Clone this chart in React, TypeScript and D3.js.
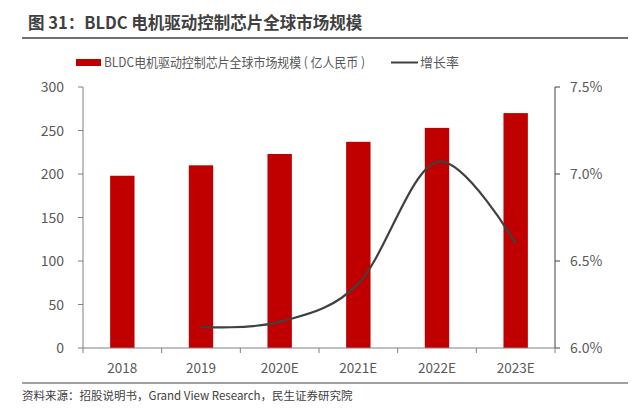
import React from "react";
import * as d3 from "d3";

const categories = ["2018", "2019", "2020E", "2021E", "2022E", "2023E"];
const marketSize = [198, 210, 223, 237, 253, 270];
const growthCats = ["2019", "2020E", "2021E", "2022E", "2023E"];
const growthRate = [6.12, 6.15, 6.37, 7.07, 6.6];
const leftTicks = [0, 50, 100, 150, 200, 250, 300];
const rightTicks = [6.0, 6.5, 7.0, 7.5];

const W = 640, H = 414;
const L = 83, R = 555, T = 87, B = 348;
const font = "'Noto Sans CJK SC', 'Noto Sans', sans-serif";

export default function App() {
  const x = d3.scaleBand().domain(categories).range([L, R]).paddingInner(0.69).paddingOuter(0.345);
  const xStep = (R - L) / categories.length;
  const yL = d3.scaleLinear().domain([0, 300]).range([B, T]);
  const yR = d3.scaleLinear().domain([6.0, 7.5]).range([B, T]);
  const cx = (c: string) => (x(c) as number) + x.bandwidth() / 2;
  const line = d3
    .line<number>()
    .x((_, i) => cx(growthCats[i]))
    .y((d) => yR(d))
    .curve(d3.curveCardinal.tension(0));
  const axisColor = "#808080";
  const textColor = "#595959";
  return (
    <svg width={W} height={H} style={{ position: "absolute", left: 0, top: 0, background: "#fff" }} fontFamily={font}>
      <text x={28} y={29} fontSize={16.5} fontWeight={700} fill="#404040">图 31：BLDC 电机驱动控制芯片全球市场规模</text>
      <line x1={22} x2={628} y1={38} y2={38} stroke="#404040" strokeWidth={1.5} />
      {/* legend */}
      <rect x={76} y={59} width={25} height={7} fill="#C00000" />
      <text x={104} y={67} fontSize={13} fill={textColor} textLength={261} lengthAdjust="spacingAndGlyphs">BLDC电机驱动控制芯片全球市场规模 ( 亿人民币 )</text>
      <line x1={391} x2={418} y1={62.5} y2={62.5} stroke="#404040" strokeWidth={2} />
      <text x={420} y={67} fontSize={13} fill={textColor}>增长率</text>
      {/* bars */}
      {categories.map((c, i) => (
        <rect key={c} x={x(c)} y={yL(marketSize[i])} width={x.bandwidth()} height={B - yL(marketSize[i])} fill="#C00000" />
      ))}
      {/* left axis */}
      <line x1={L} x2={L} y1={T} y2={B} stroke={axisColor} />
      {leftTicks.map((t) => (
        <g key={t}>
          <line x1={L - 5} x2={L} y1={yL(t)} y2={yL(t)} stroke={axisColor} />
          <text x={64} y={yL(t) + 5} fontSize={14} textAnchor="end" fill={textColor}>{t}</text>
        </g>
      ))}
      {/* right axis */}
      <line x1={R} x2={R} y1={T} y2={B} stroke="#404040" />
      {rightTicks.map((t) => (
        <g key={t}>
          <line x1={R} x2={R + 5} y1={yR(t)} y2={yR(t)} stroke="#404040" />
          <text x={570} y={yR(t) + 5} fontSize={14} fill={textColor}>{t.toFixed(1)}%</text>
        </g>
      ))}
      {/* x axis */}
      <line x1={L} x2={R} y1={B} y2={B} stroke={axisColor} />
      {d3.range(categories.length + 1).map((i) => (
        <line key={i} x1={L + i * xStep} x2={L + i * xStep} y1={B} y2={B + 5} stroke={axisColor} />
      ))}
      {categories.map((c) => (
        <text key={c} x={cx(c)} y={373} fontSize={13.5} textAnchor="middle" fill={textColor}>{c}</text>
      ))}
      {/* growth line */}
      <path d={line(growthRate) || ""} fill="none" stroke="#404040" strokeWidth={2.2} />
      <line x1={22} x2={628} y1={383} y2={383} stroke="#404040" strokeWidth={1} />
      <text x={22} y={400} fontSize={11.5} fill="#404040">资料来源：招股说明书，Grand View Research，民生证券研究院</text>
    </svg>
  );
}
